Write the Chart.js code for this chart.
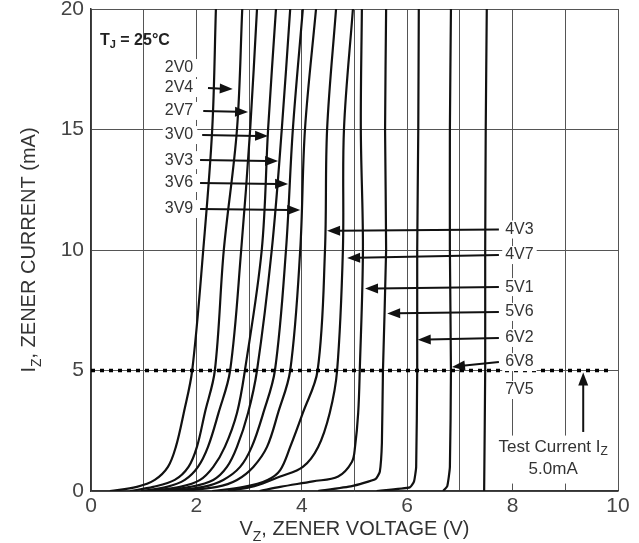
<!DOCTYPE html>
<html>
<head>
<meta charset="utf-8">
<script src="https://cdn.jsdelivr.net/npm/chart.js@4.4.0/dist/chart.umd.min.js"></script>
<style>
  body { margin: 0; background: #fff; }
  #wrap { width: 639px; height: 543px; position: relative; }
</style>
</head>
<body>
<div id="wrap"><canvas id="zener"></canvas></div>
<script>
// zener part numbers, low to high voltage
const parts = ['2V0', '2V4', '2V7', '3V0', '3V3', '3V6', '3V9', '4V3', '4V7', '5V1', '5V6', '6V2', '6V8', '7V5'];

// [Vz (V), Iz (mA)]
const curve2V0 = [[0.36,0],[0.87,0.17],[1.21,0.46],[1.46,1.0],[1.61,1.83],[1.76,3.24],[1.92,5],[2.13,10],[2.30,15],[2.37,20]];
const curve2V4 = [[0.74,0],[1.18,0.17],[1.59,0.46],[1.85,1.0],[2.01,1.83],[2.16,3.24],[2.35,5],[2.52,10],[2.77,15],[2.87,20]];
const curve2V7 = [[0.95,0],[1.44,0.17],[1.78,0.46],[2.03,1.0],[2.22,1.83],[2.42,3.24],[2.64,5],[2.85,10],[3.02,15],[3.15,20]];
const curve3V0 = [[1.10,0],[1.69,0.17],[2.07,0.46],[2.32,1.0],[2.54,1.83],[2.77,3.24],[2.92,5],[3.24,10],[3.36,15],[3.51,20]];
const curve3V3 = [[1.30,0],[1.88,0.17],[2.32,0.46],[2.58,1.0],[2.77,1.83],[2.98,3.24],[3.15,5],[3.43,10],[3.62,15],[3.78,20]];
const curve3V6 = [[1.50,0],[2.13,0.17],[2.51,0.46],[2.83,1.0],[3.05,1.83],[3.27,3.24],[3.49,5],[3.70,10],[3.83,15],[4.02,20]];
const curve3V9 = [[1.70,0],[2.39,0.17],[2.77,0.46],[3.08,1.0],[3.34,1.83],[3.55,3.24],[3.78,5],[3.97,10],[4.06,15],[4.27,20]];
const curve4V3 = [[2.30,0],[2.90,0.17],[3.35,0.46],[3.59,0.87],[3.78,1.83],[4.02,3.24],[4.30,5],[4.44,10],[4.48,15],[4.65,20]];
const curve4V7 = [[2.60,0],[3.10,0.2],[3.59,0.6],[4.02,1.0],[4.31,1.83],[4.53,3.24],[4.67,5],[4.78,10],[4.80,15],[4.97,20]];
const curve5V1 = [[3.20,0],[3.59,0.17],[4.21,0.4],[4.69,0.6],[4.95,1.2],[5.01,1.83],[5.07,3.24],[5.10,5],[5.16,10],[5.12,15],[5.14,20]];
const curve5V6 = [[4.31,0],[4.95,0.2],[5.40,0.5],[5.48,0.8],[5.52,2],[5.54,5],[5.60,10],[5.58,15],[5.60,20]];
const curve6V2 = [[5.42,0],[6.05,0.15],[6.13,0.4],[6.17,1],[6.19,5],[6.19,10],[6.21,15],[6.22,20]];
const curve6V8 = [[6.68,0],[6.76,0.2],[6.81,1],[6.83,5],[6.81,10],[6.81,15],[6.83,20]];
const curve7V5 = [[7.46,0],[7.48,5],[7.48,10],[7.49,15],[7.51,20]];

const curves = [curve2V0, curve2V4, curve2V7, curve3V0, curve3V3, curve3V6, curve3V9,
                curve4V3, curve4V7, curve5V1, curve5V6, curve6V2, curve6V8, curve7V5];

const xTicks = [0, 2, 4, 6, 8, 10];
const yTicks = [0, 5, 10, 15, 20];
const testCurrent = 5.0;

// label / arrow placement in axis units
const leftNotes = [
  { t: '2V0', i: 17.55, to: null },
  { t: '2V4', i: 16.72, from: 2.22, to: 2.69 },
  { t: '2V7', i: 15.77, from: 2.13, to: 2.98 },
  { t: '3V0', i: 14.77, from: 2.11, to: 3.36 },
  { t: '3V3', i: 13.73, from: 2.07, to: 3.55 },
  { t: '3V6', i: 12.78, from: 2.07, to: 3.74 },
  { t: '3V9', i: 11.70, from: 2.07, to: 3.97 }
];
const rightNotes = [
  { t: '4V3', i: 10.85, to: 4.48, toI: 10.80 },
  { t: '4V7', i: 9.79, to: 4.86, toI: 9.67 },
  { t: '5V1', i: 8.46, to: 5.20, toI: 8.40 },
  { t: '5V6', i: 7.43, to: 5.62, toI: 7.37 },
  { t: '6V2', i: 6.35, to: 6.20, toI: 6.28 },
  { t: '6V8', i: 5.35, to: 6.85, toI: 5.15 },
  { t: '7V5', i: 4.19, to: null }
];

function drawSub(ctx, pieces, x, y, size, align) {
  // pieces: [text, isSub]
  let w = 0;
  pieces.forEach(p => {
    ctx.font = (p[1] ? Math.round(size * 0.7) : size) + 'px "Liberation Sans", Arial, sans-serif';
    w += ctx.measureText(p[0]).width;
  });
  let cx = align === 'center' ? x - w / 2 : x;
  pieces.forEach(p => {
    ctx.font = (p[1] ? Math.round(size * 0.7) : size) + 'px "Liberation Sans", Arial, sans-serif';
    ctx.fillText(p[0], cx, p[1] ? y + size * 0.28 : y);
    cx += ctx.measureText(p[0]).width;
  });
  return w;
}

function arrow(ctx, x1, y1, x2, y2) {
  const a = Math.atan2(y2 - y1, x2 - x1);
  const len = 13, hw = 5;
  ctx.beginPath();
  ctx.moveTo(x1, y1);
  ctx.lineTo(x2 - Math.cos(a) * len * 0.8, y2 - Math.sin(a) * len * 0.8);
  ctx.stroke();
  ctx.beginPath();
  ctx.moveTo(x2, y2);
  ctx.lineTo(x2 - Math.cos(a) * len + Math.sin(a) * hw, y2 - Math.sin(a) * len - Math.cos(a) * hw);
  ctx.lineTo(x2 - Math.cos(a) * len - Math.sin(a) * hw, y2 - Math.sin(a) * len + Math.cos(a) * hw);
  ctx.closePath();
  ctx.fill();
}

const notesPlugin = {
  id: 'notes',
  afterDatasetsDraw(chart) {
    const ctx = chart.ctx, xs = chart.scales.x, ys = chart.scales.y, area = chart.chartArea;
    ctx.save();

    // test current dotted line
    ctx.strokeStyle = '#000';
    ctx.lineWidth = 3.5;
    ctx.setLineDash([4, 5]);
    ctx.beginPath();
    ctx.moveTo(area.left, ys.getPixelForValue(testCurrent));
    ctx.lineTo(area.right - 6, ys.getPixelForValue(testCurrent));
    ctx.stroke();
    ctx.setLineDash([]);

    ctx.fillStyle = '#333';
    ctx.strokeStyle = '#111';
    ctx.lineWidth = 2;
    ctx.textBaseline = 'middle';
    ctx.font = '16px "Liberation Sans", Arial, sans-serif';

    // left group
    leftNotes.forEach(n => {
      const y = ys.getPixelForValue(n.i);
      const xr = xs.getPixelForValue(1.94);
      const w = ctx.measureText(n.t).width;
      ctx.fillStyle = '#fff';
      ctx.fillRect(xr - w - 2, y - 9, w + 6, 18);
      ctx.fillStyle = '#333';
      ctx.textAlign = 'right';
      ctx.fillText(n.t, xr, y);
      if (n.to !== null) {
        ctx.fillStyle = '#111';
        arrow(ctx, xs.getPixelForValue(n.from), y, xs.getPixelForValue(n.to), y + 1);
      }
    });

    // right group
    rightNotes.forEach(n => {
      const y = ys.getPixelForValue(n.i);
      const xl = xs.getPixelForValue(7.86);
      const w = ctx.measureText(n.t).width;
      ctx.fillStyle = '#fff';
      ctx.fillRect(xl - 3, y - 9, w + 6, 18);
      ctx.fillStyle = '#333';
      ctx.textAlign = 'left';
      ctx.fillText(n.t, xl, y);
      if (n.to !== null) {
        ctx.fillStyle = '#111';
        arrow(ctx, xs.getPixelForValue(7.74), y, xs.getPixelForValue(n.to), ys.getPixelForValue(n.toI));
      }
    });

    // test current note
    ctx.fillStyle = '#111';
    arrow(ctx, xs.getPixelForValue(9.34), ys.getPixelForValue(2.45), xs.getPixelForValue(9.34), ys.getPixelForValue(4.92));
    ctx.fillStyle = '#fff';
    ctx.fillRect(xs.getPixelForValue(7.62), ys.getPixelForValue(2.3), 120, 48);
    ctx.fillStyle = '#333';
    ctx.textAlign = 'left';
    drawSub(ctx, [['Test Current I', false], ['Z', true]], xs.getPixelForValue(8.77), ys.getPixelForValue(1.83), 17, 'center');
    drawSub(ctx, [['5.0mA', false]], xs.getPixelForValue(8.77), ys.getPixelForValue(0.91), 17, 'center');

    // junction temperature
    ctx.fillStyle = '#222';
    ctx.font = 'bold 16px "Liberation Sans", Arial, sans-serif';
    let tx = xs.getPixelForValue(0.17), ty = ys.getPixelForValue(18.7);
    ctx.fillText('T', tx, ty);
    tx += ctx.measureText('T').width;
    ctx.font = 'bold 11px "Liberation Sans", Arial, sans-serif';
    ctx.fillText('J', tx, ty + 5);
    tx += ctx.measureText('J').width;
    ctx.font = 'bold 16px "Liberation Sans", Arial, sans-serif';
    ctx.fillText(' = 25°C', tx, ty);

    // axis titles
    ctx.fillStyle = '#333';
    ctx.textAlign = 'left';
    ctx.textBaseline = 'alphabetic';
    drawSub(ctx, [['V', false], ['Z', true], [', ZENER VOLTAGE (V)', false]], (area.left + area.right) / 2, 535, 20, 'center');
    ctx.translate(35, (area.top + area.bottom) / 2);
    ctx.rotate(-Math.PI / 2);
    drawSub(ctx, [['I', false], ['Z', true], [', ZENER CURRENT (mA)', false]], 0, 0, 20, 'center');
    ctx.restore();
  }
};

const datasets = curves.map((c, k) => ({
  label: parts[k],
  data: c.map(p => ({ x: p[0], y: p[1] })),
  borderColor: '#111',
  borderWidth: 2.2,
  pointRadius: 0,
  fill: false,
  tension: k < 10 ? 0.35 : 0.15
}));

new Chart(document.getElementById('zener'), {
  type: 'line',
  data: { datasets: datasets },
  options: {
    responsive: true,
    maintainAspectRatio: false,
    animation: false,
    layout: { padding: { top: 9, right: 21, left: 0, bottom: 0 } },
    plugins: { legend: { display: false }, tooltip: { enabled: false } },
    scales: {
      x: {
        type: 'linear', min: 0, max: 10,
        afterFit: s => { s.height = 52; s.paddingRight = 0; s.paddingLeft = 0; },
        ticks: {
          stepSize: 1, padding: 3,
          color: '#444', font: { size: 21, family: '"Liberation Sans", Arial, sans-serif' },
          callback: v => xTicks.includes(v) ? v : ''
        },
        grid: { color: '#555', lineWidth: 1, drawTicks: false },
        border: { color: '#333', width: 1.5 }
      },
      y: {
        type: 'linear', min: 0, max: 20,
        afterFit: s => { s.width = 91; s.paddingTop = 0; s.paddingBottom = 0; },
        ticks: {
          stepSize: 5, padding: 7,
          color: '#444', font: { size: 21, family: '"Liberation Sans", Arial, sans-serif' },
          callback: v => yTicks.includes(v) ? v : ''
        },
        grid: { color: '#555', lineWidth: 1, drawTicks: false },
        border: { color: '#333', width: 1.5 }
      }
    }
  },
  plugins: [notesPlugin]
});
</script>
</body>
</html>
